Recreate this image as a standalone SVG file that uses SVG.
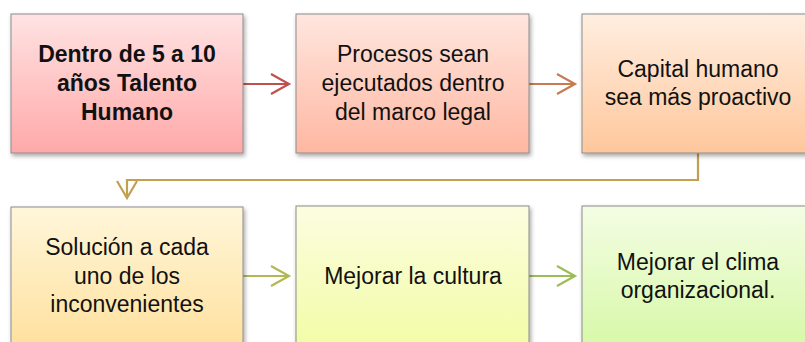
<svg xmlns="http://www.w3.org/2000/svg" width="805" height="342" viewBox="0 0 805 342">
<style>
.box{stroke:#8c8c8c;stroke-width:1;filter:url(#sh)}
.t{font-family:"Liberation Sans",Arial,sans-serif;font-size:23px;fill:#111;text-anchor:middle}
.b{font-weight:bold}
.c{fill:none;stroke-width:2.2}
</style>
<defs>
<filter id="sh" x="-10%" y="-10%" width="125%" height="130%">
<feDropShadow dx="1.5" dy="2.5" stdDeviation="2" flood-color="#000" flood-opacity="0.35"/>
</filter>
<linearGradient id="g1" x1="0" y1="0" x2="0" y2="1"><stop offset="0" stop-color="#ffe3e3"/><stop offset="1" stop-color="#ffa9a9"/></linearGradient>
<linearGradient id="g2" x1="0" y1="0" x2="0" y2="1"><stop offset="0" stop-color="#ffe6de"/><stop offset="1" stop-color="#ffb7a2"/></linearGradient>
<linearGradient id="g3" x1="0" y1="0" x2="0" y2="1"><stop offset="0" stop-color="#ffeee0"/><stop offset="1" stop-color="#ffc79c"/></linearGradient>
<linearGradient id="g4" x1="0" y1="0" x2="0" y2="1"><stop offset="0" stop-color="#fff6da"/><stop offset="1" stop-color="#ffe09c"/></linearGradient>
<linearGradient id="g5" x1="0" y1="0" x2="0" y2="1"><stop offset="0" stop-color="#fcfde0"/><stop offset="1" stop-color="#f2fca4"/></linearGradient>
<linearGradient id="g6" x1="0" y1="0" x2="0" y2="1"><stop offset="0" stop-color="#f4fde4"/><stop offset="1" stop-color="#d6f8a6"/></linearGradient>
</defs>
<rect width="805" height="342" fill="#fff"/>
<g id="connectors">
<g id="c1" stroke="#c0504d" class="c"><path d="M243 84H288"/><path d="M271 74L289 84L271 94"/></g>
<g id="c2" stroke="#c87b4f" class="c"><path d="M529 84H574"/><path d="M557 74L575 84L557 94"/></g>
<g id="c3" stroke="#c1a052" class="c"><path d="M698 153V180H127V197"/><path d="M117 181L127 198L137 181"/></g>
<g id="c4" stroke="#b4b853" class="c"><path d="M243 276H288"/><path d="M271 266L289 276L271 286"/></g>
<g id="c5" stroke="#9cbd55" class="c"><path d="M529 276H574"/><path d="M557 266L575 276L557 286"/></g>
</g>
<g id="n1"><rect class="box" x="11" y="14" width="232" height="139" fill="url(#g1)"/>
<text class="t b" x="127" y="62">Dentro de 5 a 10</text><text class="t b" x="127" y="91">años Talento</text><text class="t b" x="127" y="120">Humano</text></g>
<g id="n2"><rect class="box" x="296" y="14" width="233" height="139" fill="url(#g2)"/>
<text class="t" x="413" y="62">Procesos sean</text><text class="t" x="413" y="91">ejecutados dentro</text><text class="t" x="413" y="120">del marco legal</text></g>
<g id="n3"><rect class="box" x="582" y="14" width="232" height="139" fill="url(#g3)"/>
<text class="t" x="698" y="77">Capital humano</text><text class="t" x="698" y="105">sea más proactivo</text></g>
<g id="n4"><rect class="box" x="11" y="207" width="232" height="145" fill="url(#g4)"/>
<text class="t" x="127" y="255">Solución a cada</text><text class="t" x="127" y="284">uno de los</text><text class="t" x="127" y="312">inconvenientes</text></g>
<g id="n5"><rect class="box" x="296" y="206" width="233" height="146" fill="url(#g5)"/>
<text class="t" x="413" y="284">Mejorar la cultura</text></g>
<g id="n6"><rect class="box" x="582" y="206" width="232" height="146" fill="url(#g6)"/>
<text class="t" x="698" y="270">Mejorar el clima</text><text class="t" x="698" y="298">organizacional.</text></g>
</svg>
